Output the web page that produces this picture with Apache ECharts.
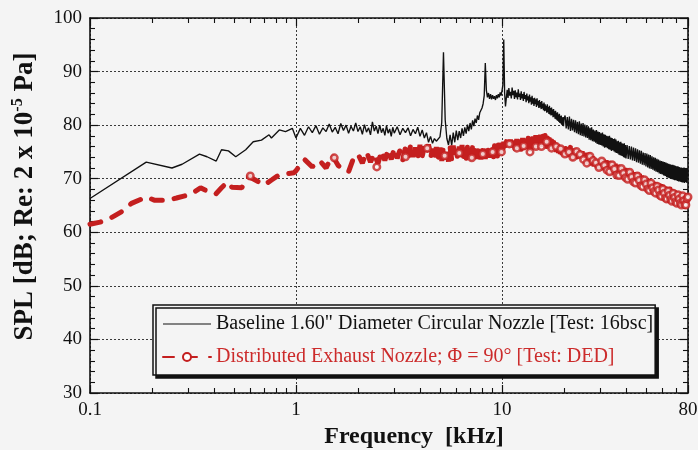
<!DOCTYPE html>
<html>
<head>
<meta charset="utf-8">
<script src="https://cdn.jsdelivr.net/npm/echarts@6/dist/echarts.min.js"></script>
<style>
  html, body { margin: 0; padding: 0; background: #f4f4f4; }
  #chart { width: 698px; height: 450px; }
</style>
</head>
<body>
<div id="chart"></div>
<script>
// ---------- axis ticks ----------
const xTickValues = [0.1, 1, 10, 80];
const xTickLabels = ['0.1', '1', '10', '80'];
const xMinorTickKHz = [0.2, 0.3, 0.4, 0.5, 0.6, 0.7, 0.8, 0.9,
                       2, 3, 4, 5, 6, 7, 8, 9,
                       20, 30, 40, 50, 60, 70];
const yTicks = [30, 40, 50, 60, 70, 80, 90, 100];

// ---------- series names ----------
const BASE_NAME = 'Baseline 1.60" Diameter Circular Nozzle [Test: 16bsc]';
const DED_NAME = 'Distributed Exhaust Nozzle; \u03A6 = 90\u00B0 [Test: DED]';

// ---------- baseline (16bsc) spectrum ----------
// low band, coarse points (kHz, dB)
const baseLowKHz = [0.1, 0.1875, 0.25, 0.28, 0.34, 0.37, 0.41, 0.435, 0.47, 0.51,
                    0.57, 0.62, 0.68, 0.74, 0.76, 0.83, 0.89, 0.96];
const baseLowDb  = [66.3, 73.1, 72.0, 72.7, 74.6, 74.1, 73.3, 75.4, 75.2, 74.1,
                    75.4, 76.9, 77.2, 78.2, 77.6, 79.1, 78.8, 79.4];
// 1.00 - 2.95 kHz, 0.05 kHz bins
const baseBandA = [77.6, 79.4, 78.1, 79.7, 78.6, 79.9, 78.3, 79.5, 78.8, 80.2,
                   78.7, 79.6, 78.4, 80.3, 79.0, 80.0, 78.5, 79.8, 78.9, 80.4,
                   78.8, 79.7, 78.3, 80.1, 78.7, 79.5, 78.2, 80.6, 78.9, 79.8,
                   78.4, 80.0, 78.6, 79.4, 78.1, 79.9, 78.5, 79.3, 77.9, 79.6];
// 3.0 - 5.0 kHz, 0.1 kHz bins
const baseBandB = [78.5, 79.7, 78.2, 79.4, 78.6, 79.5, 78.0, 79.2, 78.4, 79.6,
                   77.9, 79.1, 77.6, 78.6, 76.8, 77.9, 76.6, 77.5, 77.0, 77.3,
                   77.8];
// 5.1 - 10.4 kHz, 0.1 kHz bins (tones near 5.2, 8.3 and 10.2 kHz)
const baseBandC = [80.5, 93.6, 81.0, 77.5, 76.3, 78.2, 76.2, 78.6, 76.8, 79.0,
                   77.2, 78.9, 77.6, 79.4, 78.0, 79.6, 78.4, 80.1, 78.9, 80.4,
                   79.2, 80.9, 79.8, 81.2, 80.4, 81.8, 81.0, 82.3, 82.0, 83.2,
                   84.0, 85.5, 91.6, 86.5, 85.2, 86.0, 84.9, 85.8, 84.8, 85.6,
                   84.9, 85.4, 84.7, 85.6, 85.0, 85.8, 85.2, 86.1, 85.5, 86.4,
                   87.5, 96.0, 86.0, 83.5];
// 10.6 - 20.0 kHz, 0.1 kHz bins
const baseBandD = [86.6, 85.1, 86.9, 85.5, 86.2, 85.0, 87.0, 85.6, 86.4, 84.9,
                   86.5, 85.2, 86.1, 84.8, 86.7, 85.3, 85.9, 84.7, 86.3, 85.0,
                   85.8, 84.5, 86.2, 84.9, 85.6, 84.3, 85.9, 84.6, 85.4, 84.1,
                   85.7, 84.4, 85.2, 83.8, 85.5, 84.0, 85.0, 83.6, 85.1, 83.9,
                   84.8, 83.4, 85.0, 83.7, 84.5, 83.2, 84.7, 83.3, 84.3, 83.0,
                   84.5, 83.1, 84.0, 82.8, 84.2, 82.6, 83.9, 82.7, 83.6, 82.3,
                   83.9, 82.4, 83.4, 82.1, 83.6, 82.0, 83.2, 81.8, 83.3, 81.9,
                   82.9, 81.5, 83.0, 81.6, 82.6, 81.2, 82.7, 81.1, 82.3, 80.9,
                   82.4, 80.8, 82.0, 80.6, 82.1, 80.4, 81.7, 80.3, 81.8, 80.1,
                   81.4, 79.9, 81.5, 79.8, 81.1];
// 20.25 - 40.0 kHz, 0.25 kHz bins
const baseBandE = [81.8, 79.4, 81.5, 79.2, 81.6, 78.9, 81.2, 79.0, 81.0, 78.7,
                   80.9, 78.5, 80.6, 78.3, 80.7, 78.1, 80.3, 78.0, 80.4, 77.9,
                   80.1, 77.7, 79.9, 77.6, 79.8, 77.3, 79.5, 77.2, 79.6, 77.0,
                   79.2, 76.9, 79.0, 76.7, 79.1, 76.5, 78.8, 76.4, 78.7, 76.3,
                   78.5, 76.2, 78.6, 76.0, 78.3, 75.8, 78.2, 75.9, 78.0, 75.7,
                   77.9, 75.5, 78.0, 75.4, 77.7, 75.2, 77.6, 75.3, 77.4, 75.1,
                   77.5, 74.9, 77.3, 74.8, 77.0, 74.7, 77.1, 74.5, 76.8, 74.4,
                   76.9, 74.3, 76.6, 74.2, 76.5, 74.0, 76.6, 73.9, 76.3, 73.8];
// 40.5 - 80.0 kHz, 0.5 kHz bins
const baseBandF = [76.3, 73.7, 76.1, 73.6, 76.0, 73.4, 75.8, 73.3, 75.7, 73.1,
                   75.5, 73.0, 75.3, 72.8, 75.2, 72.6, 74.9, 72.5, 74.8, 72.3,
                   74.7, 72.1, 74.5, 71.9, 74.4, 71.8, 74.2, 71.7, 74.0, 71.5,
                   73.9, 71.3, 73.7, 71.2, 73.6, 71.0, 73.4, 70.9, 73.3, 70.8,
                   73.2, 70.6, 73.1, 70.5, 73.0, 70.3, 72.9, 70.2, 72.8, 70.1,
                   72.7, 70.0, 72.6, 69.9, 72.6, 69.8, 72.5, 69.7, 72.4, 69.7,
                   72.3, 69.6, 72.3, 69.5, 72.2, 69.5, 72.1, 69.4, 72.1, 69.3,
                   72.0, 69.3, 72.1, 69.2, 71.9, 69.4, 72.0, 69.2, 71.8, 70.4];

// ---------- distributed exhaust nozzle (DED) spectrum ----------
const dedLowKHz = [0.1, 0.112, 0.125, 0.142, 0.159, 0.188, 0.205, 0.24, 0.263, 0.308,
                   0.344, 0.375, 0.407, 0.435, 0.465, 0.488, 0.545, 0.59, 0.603, 0.66,
                   0.70, 0.764, 0.826, 0.9, 0.978];
const dedLowDb  = [61.5, 61.9, 62.6, 63.8, 65.4, 66.6, 66.0, 66.0, 66.4, 67.1,
                   68.3, 67.6, 67.1, 68.3, 69.4, 68.4, 68.3, 70.4, 70.5, 69.4,
                   68.8, 69.8, 70.7, 70.9, 71.1];
// 1.0 - 5.0 kHz, 0.1 kHz bins
const dedBandB = [71.5, 73.6, 72.2, 73.4, 72.0, 74.4, 72.5, 71.6, 71.3, 73.8,
                  74.6, 72.9, 75.0, 73.1, 74.7, 72.8, 75.2, 73.4, 75.5, 73.6,
                  75.7, 73.8, 75.4, 73.5, 75.9, 74.0, 76.2, 74.1, 75.8, 73.9,
                  76.3, 74.2, 76.0, 74.4, 76.4, 73.8, 75.6, 73.5, 75.9, 73.6,
                  75.8];
// 5.1 - 10.4 kHz, 0.1 kHz bins
const dedBandC = [73.3, 76.1, 73.6, 75.7, 73.2, 75.9, 73.5, 76.2, 73.8, 75.6,
                  73.4, 76.0, 73.7, 76.3, 74.0, 75.8, 73.5, 76.1, 73.9, 75.7,
                  73.6, 76.2, 73.8, 75.9, 73.7, 76.3, 74.0, 75.8, 73.6, 76.1,
                  73.9, 76.0, 73.7, 75.7, 74.1, 76.3, 73.9, 76.0, 74.2, 75.8,
                  74.0, 76.2, 74.3, 76.4, 74.1, 76.5, 74.4, 76.3, 74.6, 76.7,
                  74.8, 76.9, 75.0, 76.6];
// 10.6 - 20.0 kHz, 0.2 kHz bins
const dedBandD = [77.2, 75.2, 77.3, 75.3, 77.1, 75.1, 77.4, 75.4, 77.3, 75.3,
                  77.6, 75.5, 77.5, 75.6, 77.7, 75.5, 77.8, 75.7, 77.9, 75.8,
                  78.1, 75.9, 78.0, 76.0, 78.2, 76.1, 78.0, 75.9, 78.1, 76.0,
                  77.9, 75.8, 77.8, 75.6, 77.6, 75.4, 77.4, 75.3, 77.2, 75.0,
                  77.0, 74.8, 76.8, 74.6, 76.5, 74.4, 76.3, 74.2];
// 20.5 - 80.0 kHz, 0.5 kHz bins
const dedBandE = [76.1, 74.1, 75.9, 73.8, 75.6, 73.6, 75.3, 73.3, 75.1, 73.1,
                  74.8, 72.8, 74.6, 72.5, 74.3, 72.3, 74.0, 72.0, 73.8, 71.8,
                  73.8, 71.6, 73.6, 71.4, 73.3, 71.1, 73.1, 70.9, 72.9, 70.8,
                  72.8, 70.6, 72.6, 70.4, 72.3, 70.1, 72.1, 69.9, 72.0, 69.8,
                  71.9, 69.7, 71.7, 69.5, 71.4, 69.3, 71.2, 69.1, 71.1, 69.0,
                  71.1, 68.8, 70.9, 68.6, 70.6, 68.4, 70.4, 68.2, 70.2, 68.1,
                  70.1, 67.9, 69.9, 67.7, 69.7, 67.5, 69.5, 67.4, 69.4, 67.3,
                  69.3, 67.1, 69.1, 66.9, 68.9, 66.8, 68.8, 66.6, 68.7, 66.5,
                  68.6, 66.4, 68.4, 66.2, 68.3, 66.1, 68.2, 66.0, 68.1, 65.9,
                  68.1, 65.7, 68.0, 65.6, 67.9, 65.5, 67.8, 65.4, 67.7, 65.3,
                  67.6, 65.2, 67.5, 65.0, 67.4, 64.9, 67.5, 64.8, 67.3, 64.9,
                  67.3, 64.8, 67.2, 64.7, 67.4, 64.9, 67.1, 65.0, 67.2, 66.5];
// symbol points: every 0.934 kHz starting at 0.6 kHz
const dedMarkStartKHz = 0.6;
const dedMarkStepKHz = 0.934;
const dedMarkDb = [70.5, 73.9, 72.2, 74.1, 75.7, 74.3, 74.8, 73.9, 74.6, 75.0,
                   75.0, 76.5, 75.7, 76.1, 75.0, 76.0, 76.0, 76.9, 75.7, 76.0,
                   75.6, 74.6, 75.0, 74.0, 75.1, 74.5, 73.6, 72.9, 74.2, 73.4,
                   73.0, 72.1, 73.3, 72.5, 71.6, 71.3, 72.6, 71.8, 70.7, 70.6,
                   71.9, 71.0, 70.2, 69.9, 71.2, 70.3, 69.4, 69.2, 70.5, 69.7,
                   68.7, 68.5, 69.8, 69.0, 68.1, 67.8, 69.2, 68.3, 67.6, 67.3,
                   68.6, 67.9, 66.9, 66.7, 68.1, 67.3, 66.4, 66.2, 67.7, 66.9,
                   66.1, 65.8, 67.3, 66.5, 65.7, 65.4, 67.0, 66.2, 65.4, 65.1,
                   66.8, 65.9, 65.2, 65.1, 66.3, 66.6];

// narrowband bin grids (first bin, spacing) in kHz
const BASE_BINS = [
  { start: 1.0, step: 0.05 }, { start: 3.0, step: 0.1 }, { start: 5.1, step: 0.1 },
  { start: 10.6, step: 0.1 }, { start: 20.25, step: 0.25 }, { start: 40.5, step: 0.5 }
];
const DED_BINS = [
  { start: 1.0, step: 0.1 }, { start: 5.1, step: 0.1 },
  { start: 10.6, step: 0.2 }, { start: 20.5, step: 0.5 }
];

function pairs(khz, db) { return khz.map((f, i) => [f, db[i]]); }
function binned(grid, db) {
  return db.map((v, i) => [+(grid.start + i * grid.step).toFixed(3), v]);
}

const baseBands = [baseBandA, baseBandB, baseBandC, baseBandD, baseBandE, baseBandF];
const dedBands = [dedBandB, dedBandC, dedBandD, dedBandE];

const baselineData = pairs(baseLowKHz, baseLowDb)
  .concat(...baseBands.map((b, i) => binned(BASE_BINS[i], b)));
const dedLineData = pairs(dedLowKHz, dedLowDb)
  .concat(...dedBands.map((b, i) => binned(DED_BINS[i], b)));
const dedMarkData = binned({ start: dedMarkStartKHz, step: dedMarkStepKHz }, dedMarkDb);

// ---------- styling ----------
const FONT = '"Liberation Serif", "Times New Roman", Times, serif';
const INK = '#111111';
const RED = '#c41f1f';
const RED_TEXT = '#cc2b2b';
const BG = '#f4f4f4';
const MARK_FILL = '#fbf8f7';
const dotted = { show: true, lineStyle: { color: '#3a3a3a', width: 1, type: [2, 2] } };
const frame = { show: true, onZero: false, lineStyle: { color: INK, width: 1.6 } };
const majorTick = { show: true, inside: true, length: 8, lineStyle: { color: INK, width: 1.2 } };
const minorTickStyle = { color: INK, width: 1.1 };

const logMin = Math.log10(xTickValues[0]);
const logMax = Math.log10(xTickValues[xTickValues.length - 1]);
const minorTickPos = xMinorTickKHz.map(f => Math.log10(f));

function xLabel(v) {
  let best = 0;
  xTickValues.forEach((t, i) => {
    if (Math.abs(Math.log10(v / t)) < Math.abs(Math.log10(v / xTickValues[best]))) best = i;
  });
  return xTickLabels[best];
}

function logAxis(position, withLabels) {
  return {
    type: 'log', logBase: 10, position,
    min: xTickValues[0], max: xTickValues[xTickValues.length - 1],
    axisLine: frame, axisTick: majorTick,
    axisLabel: withLabels
      ? { show: true, color: INK, fontFamily: FONT, fontSize: 19, margin: 8, formatter: xLabel }
      : { show: false },
    splitLine: withLabels ? dotted : { show: false },
    minorTick: { show: false }, minorSplitLine: { show: false }
  };
}
function minorXAxis(position) {
  return {
    type: 'value', position, min: logMin, max: logMax,
    axisLine: { show: false, onZero: false }, axisLabel: { show: false }, splitLine: { show: false },
    axisTick: { show: true, inside: true, length: 5, customValues: minorTickPos, lineStyle: minorTickStyle }
  };
}
function yAxis(position, withLabels) {
  return {
    type: 'value', position,
    min: yTicks[0], max: yTicks[yTicks.length - 1], interval: yTicks[1] - yTicks[0],
    axisLine: frame, axisTick: majorTick,
    minorTick: { show: true, splitNumber: 5, length: 5, lineStyle: minorTickStyle },
    axisLabel: withLabels
      ? { show: true, color: INK, fontFamily: FONT, fontSize: 19, margin: 8 }
      : { show: false },
    splitLine: withLabels ? dotted : { show: false }
  };
}

const xMain = logAxis('bottom', true);
xMain.name = 'Frequency  [kHz]';
xMain.nameLocation = 'middle';
xMain.nameGap = 30;
xMain.nameTextStyle = { fontFamily: FONT, fontWeight: 'bold', fontSize: 24, color: INK, padding: [0, 0, 0, 50] };

const yMain = yAxis('left', true);
yMain.name = 'SPL [dB; Re: 2 x 10{sup|-5} Pa]';
yMain.nameLocation = 'middle';
yMain.nameRotate = 90;
yMain.nameGap = 50;
yMain.nameTextStyle = {
  fontFamily: FONT, fontWeight: 'bold', fontSize: 27, color: INK, lineHeight: 30,
  padding: [0, 0, 0, 18],
  rich: { sup: { fontFamily: FONT, fontWeight: 'bold', fontSize: 16, color: INK, lineHeight: 16, verticalAlign: 'top' } }
};

const chart = echarts.init(document.getElementById('chart'), null, { renderer: 'canvas' });
chart.setOption({
  animation: false,
  backgroundColor: BG,
  grid: { left: 90, right: 10, top: 18, bottom: 57, containLabel: false, outerBoundsMode: 'none' },
  xAxis: [xMain, minorXAxis('bottom'), logAxis('top', false), minorXAxis('top')],
  yAxis: [yMain, yAxis('right', false)],
  legend: {
    orient: 'vertical', left: 153, top: 305,
    itemWidth: 48, itemHeight: 10, itemGap: 13,
    padding: [9, 2, 8, 9],
    backgroundColor: BG, borderColor: INK, borderWidth: 1.5, borderRadius: 0,
    shadowColor: INK, shadowBlur: 0, shadowOffsetX: 3, shadowOffsetY: 3,
    selectedMode: false,
    textStyle: { fontFamily: FONT, fontSize: 20, color: INK },
    data: [
      { name: BASE_NAME, icon: 'path://M0,0H40V1H0Z', itemStyle: { color: INK } },
      { name: DED_NAME, textStyle: { color: RED_TEXT } }
    ]
  },
  series: [
    {
      name: BASE_NAME, type: 'line', xAxisIndex: 0, yAxisIndex: 0,
      data: baselineData, symbol: 'none', silent: true,
      lineStyle: { color: INK, width: 1.35 }, itemStyle: { color: INK }
    },
    {
      name: DED_NAME, type: 'line', xAxisIndex: 0, yAxisIndex: 0,
      data: dedLineData, symbol: 'emptyCircle', symbolSize: 8, showSymbol: false, silent: true,
      lineStyle: { color: RED, width: 5, type: [11, 12], cap: 'round' },
      itemStyle: { color: RED, borderColor: RED, borderWidth: 1.5 }
    },
    {
      name: DED_NAME, type: 'scatter', xAxisIndex: 0, yAxisIndex: 0, z: 4,
      data: dedMarkData, symbol: 'circle', symbolSize: 6.5, silent: true,
      itemStyle: { color: MARK_FILL, borderColor: RED, borderWidth: 2.5 }
    }
  ]
});
</script>
</body>
</html>
